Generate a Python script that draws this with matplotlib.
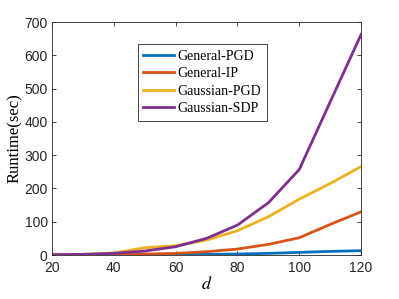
import numpy as np
import matplotlib.pyplot as plt

plt.rcParams['mathtext.fontset'] = 'stix'

d = [20, 30, 40, 50, 60, 70, 80, 90, 100, 110, 120]
general_pgd = [0.2, 0.4, 0.7, 1, 1.5, 2, 3, 5, 8, 11, 13]
general_ip = [0.5, 1, 2, 3, 5, 10, 18, 32, 52, 92, 130]
gaussian_pgd = [1, 2, 6, 22, 28, 45, 73, 115, 168, 215, 266]
gaussian_sdp = [1, 2, 5, 12, 25, 50, 90, 157, 257, 460, 663]

colors = ['#0072BD', '#D95319', '#EDB120', '#7E2F8E']
labels = ['General-PGD', 'General-IP', 'Gaussian-PGD', 'Gaussian-SDP']

fig = plt.figure(figsize=(3.99, 2.99), dpi=100)
ax = fig.add_axes([0.130, 0.147, 0.775, 0.779])

for y, c, lab in zip([general_pgd, general_ip, gaussian_pgd, gaussian_sdp], colors, labels):
    ax.plot(d, y, color=c, lw=2, label=lab)

ax.set_xlim(20, 120)
ax.set_ylim(0, 700)
ax.set_xticks([20, 40, 60, 80, 100, 120])
ax.set_yticks(np.arange(0, 701, 100))
ax.tick_params(direction='in', length=3, width=0.6, labelsize=10, colors='#262626',
               top=True, right=True)
ax.tick_params(axis='x', pad=4)
ax.tick_params(axis='y', pad=3)
for lab in ax.get_xticklabels() + ax.get_yticklabels():
    lab.set_fontfamily('Liberation Sans')
for s in ax.spines.values():
    s.set_color('#262626')
    s.set_linewidth(0.6)

ax.set_xlabel('$d$', fontsize=13, labelpad=0)
ax.set_ylabel('Runtime(sec)', fontsize=12, family='Liberation Serif', labelpad=1)

leg = ax.legend(loc='upper left', bbox_to_anchor=(0.278, 0.905), fancybox=False,
                prop={'family': 'Liberation Serif', 'size': 10},
                handlelength=2.2, handletextpad=0.25, labelspacing=0.32,
                borderpad=0.4, borderaxespad=0, framealpha=1)
leg.get_frame().set_edgecolor('#262626')
leg.get_frame().set_linewidth(0.6)

fig.savefig('out.png', dpi=100)
